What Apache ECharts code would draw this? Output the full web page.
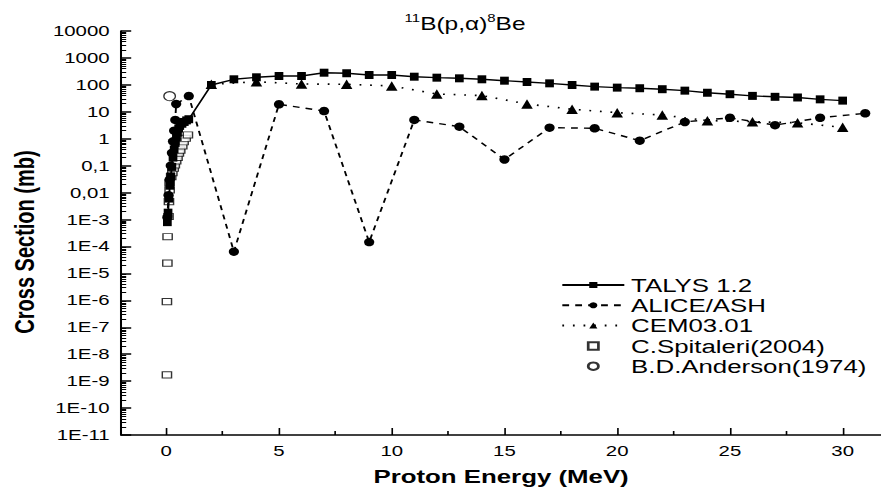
<!DOCTYPE html>
<html><head><meta charset="utf-8">
<script src="https://cdn.jsdelivr.net/npm/echarts@6/dist/echarts.min.js"></script>
<style>
html,body{margin:0;padding:0;background:#fff;overflow:hidden;}
#wrap{width:881px;height:491px;overflow:hidden;}
#c{width:648px;height:491px;transform:scaleX(1.35957);transform-origin:0 0;}
</style></head><body><div id="wrap"><div id="c"></div></div>
<script>
// ---- data (Proton energy MeV, cross section mb) ----
const talys = [[0.05,8e-4],[0.08,1.8e-3],[0.12,6e-3],[0.16,0.018],[0.2,0.04],[0.25,0.09],[0.3,0.2],[0.35,0.4],[0.4,0.7],[0.45,1.1],[0.5,1.7],[0.55,2.4],[0.6,3.0],[0.7,3.6],[0.8,4.2],[0.9,4.8],[1.0,5.3],
  [2,99],[3,161],[4,191],[5,213],[6,213],[7,283],[8,270],[9,232],[10,232],[11,201],[12,185],[13,175],[14,161],[15,143],[16,128],[17,114],[18,99],[19,86],[20,79],[21,75],[22,69],[23,61],[24,51],[25,45],[26,39],[27,36],[28,34],[29,29],[30,26]];
const alice = [[0.05,1.2e-3],[0.1,8e-3],[0.15,0.03],[0.2,0.1],[0.25,0.3],[0.3,0.8],[0.35,2],[0.4,5],[0.44,19.5],[1.0,38.5],
  [3,6.4e-5],[5,19],[7,10.7],[9,1.45e-4],[11,5.0],[13,2.8],[15,0.17],[17,2.57],[19,2.44],[21,0.85],[23,4.2],[25,6.0],[27,3.2],[29,6.0],[31,8.8]];
const cem = [[2,105],[4,131],[6,108],[8,105],[10,91],[12,46],[14,40],[16,19.5],[18,12.4],[20,9.3],[22,7.6],[24,4.7],[26,4.3],[28,3.9],[30,2.65]];
const spitaleri = [[0.03,1.7e-9],[0.03,8.9e-7],[0.05,2.4e-5],[0.06,2.3e-4],[0.1,1.3e-3],[0.12,4.6e-3],[0.15,0.0125],[0.15,0.023],[0.22,0.039],[0.27,0.055],[0.33,0.08],[0.38,0.106],[0.44,0.149],[0.5,0.204],[0.56,0.29],[0.62,0.38],[0.71,0.54],[0.77,0.77],[0.86,1.04],[0.96,1.38]];
const anderson = [[0.15,38]];
const xMajor = [0,5,10,15,20,25,30];
const xMinor = [2.5,7.5,12.5,17.5,22.5,27.5];
const yTickLabels = ['1E-11','1E-10','1E-9','1E-8','1E-7','1E-6','1E-5','1E-4','1E-3','0,01','0,1','1','10','100','1000','10000'];
const yExpMin = -11, yExpMax = 4;

const yMajor = [], yMinor = [];
for (let k = yExpMin; k <= yExpMax; k++) {
  yMajor.push(Math.pow(10, k));
  if (k < yExpMax) for (let m = 2; m <= 9; m++) yMinor.push(m * Math.pow(10, k));
}
const FF = 'Liberation Sans, Arial, Helvetica, sans-serif';
const black = '#000';
const squareIcon = 'path://M0,0L10,0L10,10L0,10Z';

const chart = echarts.init(document.getElementById('c'), null, {renderer: 'svg'});
chart.setOption({
  animation: false,
  backgroundColor: '#fff',
  title: {
    text: '{sup|11}B(p,α){sup|8}Be',
    left: 292.6, top: 8,
    textStyle: {fontSize: 18, fontWeight: 'normal', color: black, fontFamily: FF, lineHeight: 22,
      rich: {sup: {fontSize: 11, verticalAlign: 'top', lineHeight: 22, color: black, fontFamily: FF}}}
  },
  legend: {
    orient: 'vertical', left: 412.6, top: 275, padding: 0,
    itemWidth: 45.6, itemHeight: 7.5, itemGap: 0.3,
    textStyle: {fontSize: 19, lineHeight: 20, color: black, fontFamily: FF},
    data: [
      {name: 'TALYS 1.2'},
      {name: 'ALICE/ASH'},
      {name: 'CEM03.01'},
      {name: 'C.Spitaleri(2004)', icon: squareIcon},
      {name: 'B.D.Anderson(1974)', icon: 'circle'}
    ]
  },
  grid: {left: 87.2, right: 0, top: 31, bottom: 56, containLabel: false},
  xAxis: [{
    type: 'value', min: -2, max: 31.7,
    name: 'Proton Energy (MeV)', nameLocation: 'middle', nameGap: 32,
    nameTextStyle: {fontSize: 19, fontWeight: 'bold', color: black, fontFamily: FF},
    axisLine: {show: true, onZero: false, lineStyle: {color: black, width: 1.5}},
    axisTick: {show: true, inside: true, length: 7, lineStyle: {color: black, width: 1.2}, customValues: xMajor},
    axisLabel: {color: black, fontSize: 15, fontFamily: FF, margin: 8, customValues: xMajor},
    splitLine: {show: false}
  }, {
    type: 'value', min: -2, max: 31.7, position: 'bottom',
    axisLine: {show: false, onZero: false},
    axisTick: {show: true, inside: true, length: 4, lineStyle: {color: black, width: 1.2}, customValues: xMinor},
    axisLabel: {show: false},
    splitLine: {show: false}
  }],
  yAxis: [{
    type: 'log', logBase: 10, min: 1e-11, max: 1e4, splitNumber: 15,
    name: 'Cross Section (mb)', nameLocation: 'middle', nameGap: 48,
    nameTextStyle: {fontSize: 20, fontWeight: 'bold', color: black, fontFamily: FF, padding: [0, 18, 0, 0]},
    axisLine: {show: true, onZero: false, lineStyle: {color: black, width: 1.5}},
    axisTick: {show: true, inside: true, length: 7.4, lineStyle: {color: black, width: 1.5}, customValues: yMajor},
    axisLabel: {color: black, fontSize: 15, fontFamily: FF, margin: 8.5, customValues: yMajor,
      formatter: function (v) { return yTickLabels[Math.round(Math.log10(v)) - yExpMin]; }},
    splitLine: {show: false}, minorTick: {show: false}
  }, {
    type: 'log', logBase: 10, min: 1e-11, max: 1e4, position: 'left',
    axisLine: {show: false, onZero: false},
    axisTick: {show: true, inside: true, length: 3.7, lineStyle: {color: black, width: 1}, customValues: yMinor},
    axisLabel: {show: false},
    splitLine: {show: false}
  }],
  series: [{
    name: 'TALYS 1.2', type: 'line', data: talys,
    symbol: 'rect', symbolSize: [6.4, 8], showAllSymbol: true,
    lineStyle: {color: black, width: 1.4, type: 'solid'},
    itemStyle: {color: black}
  }, {
    name: 'ALICE/ASH', type: 'line', data: alice,
    symbol: 'circle', symbolSize: [7.5, 8.5], showAllSymbol: true,
    lineStyle: {color: black, width: 1.4, type: [5, 4.5]},
    itemStyle: {color: black}
  }, {
    name: 'CEM03.01', type: 'line', data: cem,
    symbol: 'triangle', symbolSize: [8.5, 9.5], showAllSymbol: true,
    lineStyle: {color: black, width: 1.6, type: [1.3, 6.5]},
    itemStyle: {color: black}
  }, {
    name: 'C.Spitaleri(2004)', type: 'scatter', data: spitaleri,
    symbol: 'rect', symbolSize: [6.8, 6.2],
    itemStyle: {color: '#fff', borderColor: black, borderWidth: 1}
  }, {
    name: 'B.D.Anderson(1974)', type: 'scatter', data: anderson,
    symbol: 'circle', symbolSize: [8.5, 9],
    itemStyle: {color: '#fff', borderColor: black, borderWidth: 1}
  }]
});
</script>
</body></html>
